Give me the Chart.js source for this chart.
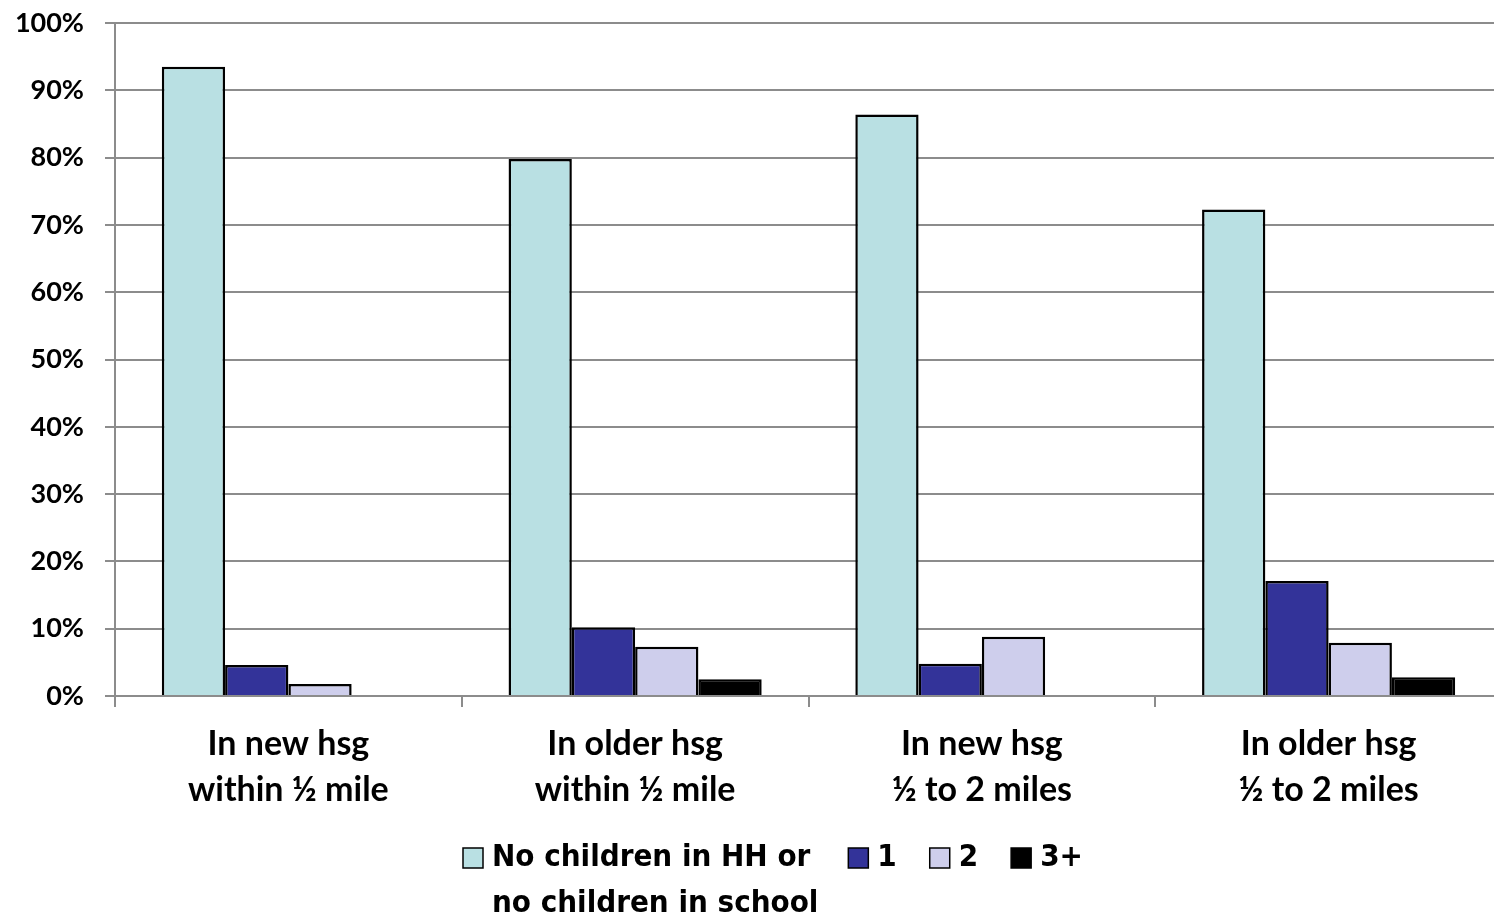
<!DOCTYPE html>
<html>
<head>
<meta charset="utf-8">
<script src="https://cdn.jsdelivr.net/npm/chart.js@4.4.1/dist/chart.umd.min.js"></script>
<style>
  html, body { margin: 0; padding: 0; background: #fff; overflow: hidden; }
  #wrap { width: 1510px; height: 918px; }
</style>
</head>
<body>
<div id="wrap"><canvas id="chart" width="1510" height="918"></canvas></div>
<script>
const categories = [
    ['In new hsg', 'within \u00bd mile'],
    ['In older hsg', 'within \u00bd mile'],
    ['In new hsg', '\u00bd to 2 miles'],
    ['In older hsg', '\u00bd to 2 miles']
];
const seriesNames = [
    ['No children in HH or', 'no children in school'],
    ['1'],
    ['2'],
    ['3+']
];
const noChildren = [93.5, 79.8, 86.4, 72.3];
const oneChild = [4.6, 10.2, 4.8, 17.1];
const twoChildren = [1.8, 7.3, 8.8, 7.9];
const threePlus = [0, 2.5, 0, 2.8];
const yTicks = [0, 10, 20, 30, 40, 50, 60, 70, 80, 90, 100];

const colors = ['#B9E0E3', '#333399', '#CECEEC', '#000000'];

document.addEventListener('DOMContentLoaded', () => {
    const values = [noChildren, oneChild, twoChildren, threePlus];

    const datasets = values.map((vals, i) => ({
        label: seriesNames[i].join(' '),
        data: vals,
        backgroundColor: colors[i],
        borderColor: '#000',
        borderWidth: 2.5,
        categoryPercentage: 0.73,
        barPercentage: 1
    }));

    // legend drawn by hand because the first label wraps onto two lines
    const bottomLegend = {
        id: 'bottomLegend',
        afterDraw(chart) {
            const ctx = chart.ctx;
            ctx.save();
            ctx.font = 'bold 31px "Liberation Sans Narrow", "DejaVu Sans Condensed", sans-serif';
            ctx.textBaseline = 'middle';
            let x = 463;
            const y = 858;
            const box = 20;
            const gaps = [38, 33, 33, 0];
            chart.data.datasets.forEach((ds, i) => {
                ctx.fillStyle = ds.backgroundColor;
                ctx.fillRect(x, y - box / 2, box, box);
                ctx.strokeStyle = '#000';
                ctx.lineWidth = 1.5;
                ctx.strokeRect(x, y - box / 2, box, box);
                ctx.fillStyle = '#000';
                const lines = seriesNames[i];
                lines.forEach((line, j) => {
                    ctx.fillText(line, x + box + 9, y + j * 46);
                });
                x += box + 9 + ctx.measureText(lines[0]).width + gaps[i];
            });
            ctx.restore();
        }
    };

    new Chart(document.getElementById('chart'), {
        type: 'bar',
        data: { labels: categories, datasets: datasets },
        options: {
            responsive: false,
            animation: false,
            layout: { padding: { top: 23, right: 8, left: 0, bottom: 0 } },
            plugins: {
                legend: { display: false },
                tooltip: { enabled: false }
            },
            scales: {
                x: {
                    grid: {
                        drawOnChartArea: false,
                        drawTicks: true,
                        tickLength: 11,
                        color: '#8c8c8c',
                        lineWidth: 2
                    },
                    border: { color: '#8c8c8c', width: 2 },
                    ticks: {
                        color: '#000',
                        padding: 14,
                        maxRotation: 0,
                        font: { family: 'Lato', size: 34, weight: 'bold', lineHeight: '46px' }
                    },
                    afterFit(scale) { scale.height = 222; }
                },
                y: {
                    min: 0,
                    max: 100,
                    afterBuildTicks(scale) {
                        scale.ticks = yTicks.map(v => ({ value: v }));
                    },
                    grid: {
                        color: '#8c8c8c',
                        lineWidth: 2,
                        tickLength: 10
                    },
                    border: { color: '#8c8c8c', width: 2 },
                    ticks: {
                        color: '#000',
                        padding: 21,
                        font: { family: 'Lato', size: 27, weight: 'bold' },
                        callback: v => v + '%'
                    },
                    afterFit(scale) {
                        scale.width = 115;
                        scale.paddingTop = 0;
                        scale.paddingBottom = 0;
                    }
                }
            }
        },
        plugins: [bottomLegend]
    });
});
</script>
</body>
</html>
